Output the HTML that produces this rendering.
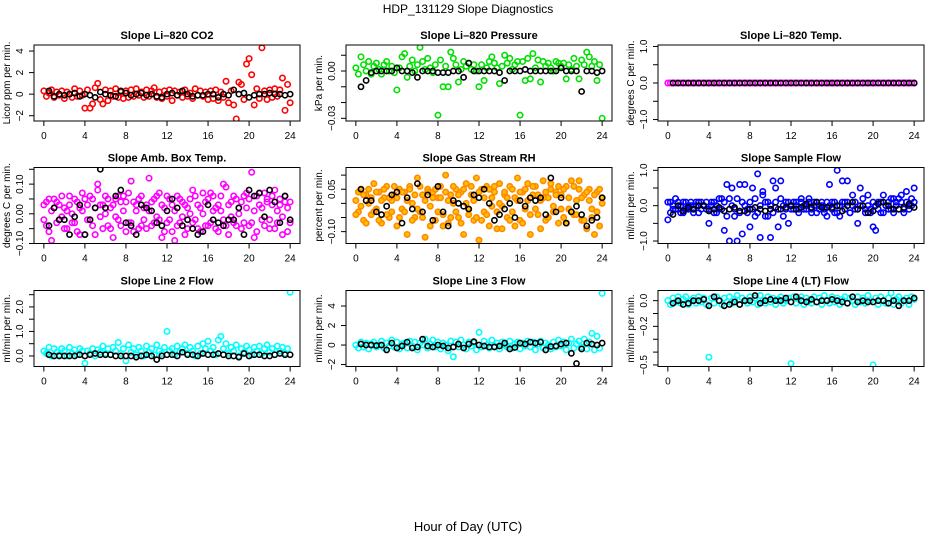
<!DOCTYPE html>
<html><head><meta charset="utf-8"><title>HDP_131129 Slope Diagnostics</title>
<style>
html,body{margin:0;padding:0;background:#fff;}
svg{display:block;font-family:"Liberation Sans",sans-serif;}
</style></head>
<body>
<svg id="chart" width="936" height="540" viewBox="0 0 936 540" xmlns="http://www.w3.org/2000/svg">
<rect x="0" y="0" width="936" height="540" fill="#fff"/>
<text x="468" y="13" font-size="12" text-anchor="middle">HDP_131129  Slope Diagnostics</text>
<text x="468" y="531" font-size="13" text-anchor="middle">Hour of Day (UTC)</text>
</svg>
<script>
const hours = Array.from({length:97},(_, i)=>i*0.25);
const blackHours = Array.from({length:48},(_, i)=>0.5+i*0.5);

const co2Vals = [0.3,-0.2,0.1,0.4,-0.3,0.2,-0.1,0.3,-0.4,0.2,0.0,-0.3,0.5,-0.2,0.3,-0.1,
-1.3,0.4,-1.3,-0.9,0.6,1.0,-0.5,-0.9,0.4,-0.6,0.3,-0.2,0.5,-0.3,0.2,-0.4,
0.3,-0.3,0.4,-0.2,0.5,-0.1,0.2,-0.3,0.4,-0.2,0.3,0.6,-0.3,0.2,-0.4,0.3,
-0.2,0.4,-0.6,0.3,-0.1,0.2,-0.3,0.4,-0.2,0.1,-0.4,0.5,-0.1,0.3,-0.2,0.2,
-0.5,0.3,-0.4,0.4,-0.6,0.2,-0.3,1.2,-0.8,0.3,-1.0,-2.3,1.1,0.9,-0.5,2.8,
3.3,1.8,-1.0,0.5,-0.4,4.3,0.3,-0.5,0.4,-0.3,0.5,-0.2,0.4,1.5,-1.5,0.9,-0.8];
const co2Mean = [0.3,-0.2,0.0,-0.1,0.0,0.1,-0.2,0.0,-0.1,-0.3,0.2,0.0,-0.1,-0.2,0.3,0.1,-0.1,0.0,0.1,-0.1,0.0,-0.2,-0.3,0.0,0.1,-0.1,0.3,0.0,-0.2,-0.1,-0.1,0.0,0.0,-0.3,0.0,-0.1,0.4,0.0,0.1,-0.3,-0.1,0.0,0.0,0.1,0.0,0.0,-0.1,0.0];

const presVals = [0.002,-0.002,0.009,0.004,0.000,0.006,-0.002,0.003,0.005,0.001,-0.002,0.004,0.006,0.000,0.003,-0.001,
-0.012,0.002,0.009,0.011,-0.004,0.003,0.007,0.000,0.004,0.015,0.006,0.001,0.008,0.002,-0.001,0.004,
-0.028,0.007,-0.010,0.003,-0.010,0.012,0.008,0.004,-0.007,0.001,0.006,0.003,0.005,0.001,0.004,0.000,
-0.010,0.004,-0.006,0.002,0.006,0.009,0.005,0.002,-0.008,0.003,0.010,0.005,0.008,0.001,0.004,0.006,
-0.028,0.006,-0.006,0.008,-0.005,0.011,0.002,0.007,-0.007,0.006,0.003,0.005,0.002,0.000,0.006,0.005,
0.003,0.005,-0.005,0.004,0.001,0.008,0.003,-0.005,0.007,0.004,0.012,0.009,0.003,0.006,-0.006,0.004,-0.030];
const presMean = [-0.010,-0.006,-0.001,0.000,0.000,0.000,0.000,0.002,0.000,0.000,-0.001,-0.004,0.000,0.000,0.000,-0.001,-0.001,-0.001,0.000,0.000,-0.004,0.005,0.000,0.000,0.000,0.000,0.000,-0.001,-0.006,0.000,0.000,0.000,0.001,0.000,0.000,0.000,0.000,0.000,0.000,0.002,0.000,0.000,0.000,-0.013,0.000,0.000,-0.001,0.000];

const tempVals = [0,0,0,0,0,0,0,0,0,0,0,0,0,0,0,0,0,0,0,0,0,0,0,0,0,0,0,0,0,0,0,0,0,0,0,0,0,0,0,0,0,0,0,0,0,0,0,0,0,0,0,0,0,0,0,0,0,0,0,0,0,0,0,0,0,0,0,0,0,0,0,0,0,0,0,0,0,0,0,0,0,0,0,0,0,0,0,0,0,0,0,0,0,0,0,0,0];
const tempMean = [0,0,0,0,0,0,0,0,0,0,0,0,0,0,0,0,0,0,0,0,0,0,0,0,0,0,0,0,0,0,0,0,0,0,0,0,0,0,0,0,0,0,0,0,0,0,0,0];

const ambValsA = [0.03,-0.04,0.05,-0.09,0.02,0.04,-0.02,0.06,-0.05,0.01,0.03,-0.03,0.05,-0.06,0.02,0.07,
-0.07,0.03,-0.02,0.05,-0.07,0.08,-0.01,0.03,0.06,-0.04,0.02,-0.08,0.05,-0.02,0.04,0.06,
-0.06,0.07,-0.03,0.04,0.01,-0.05,0.06,-0.02,0.03,0.12,-0.04,0.05,-0.01,0.07,-0.08,0.02,
-0.03,0.05,-0.06,0.01,0.06,-0.03,0.04,-0.07,0.02,0.05,0.08,-0.02,0.03,-0.06,0.07,0.04,
-0.04,0.07,0.01,-0.05,0.03,0.06,-0.02,0.09,-0.07,0.04,-0.03,0.05,0.02,-0.05,0.06,0.07,
-0.04,0.14,-0.08,0.06,0.03,-0.02,0.07,0.05,-0.05,0.03,0.08,-0.03,0.05,-0.01,0.06,-0.06,0.04];
const ambValsB = [-0.02,0.04,-0.06,0.01,0.05,-0.03,0.03,-0.01,0.02,-0.05,0.06,0.00,-0.03,0.04,-0.07,0.01,
0.05,-0.02,0.06,-0.04,0.02,0.10,0.03,-0.05,0.00,0.05,-0.05,0.03,-0.01,0.06,-0.04,0.01,
0.04,-0.03,0.11,-0.06,0.03,0.05,-0.04,0.02,-0.05,0.01,0.04,-0.03,0.06,-0.02,0.03,-0.06,
0.06,-0.02,0.03,-0.09,-0.04,0.05,-0.01,0.03,-0.05,0.00,-0.03,0.06,-0.05,0.02,0.00,-0.04,
0.05,-0.03,0.06,0.02,-0.06,0.01,0.10,-0.04,0.03,-0.01,0.06,-0.04,0.00,0.04,-0.03,0.02,
0.05,-0.03,0.01,-0.06,0.07,0.02,-0.04,0.04,-0.02,0.06,-0.05,0.01,0.03,-0.07,0.04,0.02,-0.03];
const ambMean = [-0.04,0.02,-0.02,-0.02,-0.07,-0.01,0.03,-0.07,-0.02,0.02,0.15,0.02,-0.12,0.06,0.08,-0.03,-0.04,-0.07,0.03,0.02,0.01,-0.03,-0.04,0.01,0.05,0.02,-0.04,-0.02,-0.05,-0.07,-0.06,0.03,-0.02,-0.03,-0.04,-0.02,-0.02,0.02,-0.07,0.08,0.06,0.07,-0.01,0.08,0.04,-0.03,0.06,-0.02];

const rhValsA = [0.01,-0.03,0.05,-0.06,0.03,0.00,-0.04,0.07,-0.02,0.04,-0.07,0.02,0.06,-0.05,0.01,0.03,
-0.08,0.05,-0.02,0.04,-0.11,0.06,0.00,-0.05,0.09,-0.03,0.03,-0.12,0.05,-0.01,0.04,-0.06,
0.02,0.06,-0.04,0.10,-0.07,0.03,0.00,0.05,-0.05,0.04,-0.11,0.07,-0.02,0.03,-0.06,0.09,
-0.13,0.05,-0.03,0.06,-0.08,0.02,0.04,-0.09,0.07,-0.01,0.03,-0.05,0.06,-0.03,0.02,0.09,
-0.06,0.04,-0.02,0.07,-0.11,0.03,0.06,-0.04,0.01,0.08,-0.06,0.02,0.05,-0.03,0.04,-0.07,
0.03,-0.05,0.06,-0.02,0.08,-0.04,0.01,0.08,-0.06,0.03,-0.09,0.05,-0.02,-0.11,0.04,-0.08,0.02];
const rhValsB = [-0.04,0.04,-0.01,0.03,-0.07,0.05,0.02,-0.03,0.04,-0.06,0.01,0.05,-0.04,0.02,-0.03,0.06,
0.02,-0.05,0.04,-0.03,0.01,0.05,-0.06,0.03,-0.02,0.06,-0.05,0.01,0.04,-0.08,0.02,0.05,
-0.03,0.02,-0.08,0.04,0.01,-0.05,0.06,-0.03,0.03,-0.07,0.05,0.00,-0.04,0.06,0.01,-0.05,
0.04,-0.06,0.02,-0.04,0.05,-0.01,0.06,-0.03,0.00,-0.09,0.04,0.02,-0.06,0.05,-0.08,0.01,
0.04,-0.07,0.05,0.01,-0.04,0.06,-0.02,0.03,-0.09,0.02,0.04,-0.05,0.07,-0.01,0.03,0.06,
-0.02,0.05,-0.07,0.02,-0.03,0.06,-0.04,0.05,0.02,-0.06,0.04,0.01,-0.05,0.03,-0.03,0.05,0.00];
const rhMean = [0.05,0.01,0.01,-0.03,-0.04,-0.01,0.03,0.04,-0.07,0.02,-0.02,0.07,-0.03,0.03,-0.06,0.06,-0.03,-0.08,0.01,0.00,-0.01,-0.02,0.03,0.02,0.05,0.00,-0.06,-0.04,-0.02,0.00,-0.05,0.01,-0.01,0.02,0.01,0.02,-0.04,0.09,-0.03,0.02,-0.07,-0.03,-0.01,-0.04,-0.08,-0.06,-0.05,0.02];

const sampleValsA = [-0.4,0.1,-0.1,0.2,-0.1,0.0,-0.2,0.1,-0.1,0.0,-0.1,0.1,-0.2,0.1,0.0,-0.1,
-0.5,0.1,-0.2,0.0,-0.1,0.2,-0.7,0.6,-1.0,0.5,-0.3,-1.0,0.6,-0.8,0.6,-0.1,
-0.6,0.5,-0.3,0.9,-0.9,0.3,0.1,-0.3,-0.9,0.7,0.5,-0.6,0.7,-0.3,0.1,-0.5,
0.0,-0.1,0.1,-0.2,0.1,0.0,-0.1,0.2,-0.1,0.1,-0.2,0.0,0.1,-0.1,-0.3,0.6,
0.1,-0.2,1.0,-0.3,0.7,0.1,0.7,-0.2,0.3,-0.1,-0.5,0.5,0.0,-0.2,0.3,-0.1,
-0.6,-0.7,0.1,-0.2,0.3,0.0,-0.1,0.2,-0.2,0.1,0.2,0.3,-0.1,0.4,0.0,0.2,0.5];
const sampleValsB = [0.1,-0.2,0.0,-0.1,0.1,-0.2,0.1,-0.1,0.0,0.1,-0.2,0.0,0.1,-0.1,0.0,0.1,
-0.1,0.0,0.1,-0.2,0.2,-0.1,0.1,-0.3,0.2,0.0,-0.1,0.2,-0.2,0.1,0.0,-0.2,
0.1,-0.1,0.2,-0.2,0.0,0.4,-0.3,0.1,0.0,-0.2,0.1,-0.1,0.2,0.0,-0.1,0.1,
-0.1,0.1,0.0,-0.1,0.2,-0.1,0.0,0.1,-0.2,0.0,0.1,-0.1,0.0,-0.2,0.1,0.0,
-0.1,0.1,-0.2,0.0,0.1,-0.1,0.1,-0.2,0.0,0.1,-0.1,0.0,0.2,-0.1,0.0,-0.2,
0.1,0.0,-0.1,0.1,-0.2,0.0,0.1,-0.1,0.2,0.0,-0.1,0.1,-0.2,0.1,-0.1,0.0,0.1];
const sampleMean = [-0.25,0.0,-0.15,-0.05,-0.1,0.0,0.0,-0.15,-0.1,-0.05,-0.15,-0.1,-0.05,-0.15,-0.15,-0.1,-0.05,-0.1,-0.15,-0.1,-0.05,-0.1,-0.05,0.0,-0.1,-0.05,0.05,-0.05,0.1,-0.05,-0.05,-0.05,0.0,-0.15,0.0,0.1,-0.1,0.0,-0.2,-0.15,0.05,0.1,0.0,-0.1,-0.1,-0.05,0.05,-0.05];

const line2Vals = [0.2,0.1,0.35,0.0,0.3,0.15,0.05,0.3,0.2,0.0,0.35,0.1,0.25,0.05,0.3,0.2,
-0.3,0.2,0.1,0.3,0.0,0.25,0.15,0.4,0.1,0.3,0.05,0.35,0.2,0.55,0.1,0.3,
-0.2,0.45,0.15,0.3,0.05,0.35,0.2,0.0,0.4,0.15,0.3,0.05,0.45,0.2,0.1,0.35,
1.0,0.2,0.3,0.05,0.4,0.15,0.3,0.45,0.1,0.35,0.2,0.0,0.4,0.1,0.5,0.3,
0.6,0.2,0.35,0.05,0.65,0.8,0.3,0.5,0.1,0.35,0.2,0.45,0.0,0.3,0.15,0.4,
0.25,0.05,0.35,0.2,0.4,0.1,0.3,0.45,0.15,0.3,0.05,0.4,0.2,0.35,0.1,0.3,2.6];
const line2Mean = [0.05,0.0,0.0,0.0,0.0,0.0,0.05,0.0,0.05,0.1,0.05,0.05,0.05,0.0,0.0,0.0,0.0,-0.05,0.0,0.05,0.0,-0.15,0.0,0.05,0.05,0.0,0.15,0.05,0.05,0.0,0.1,0.05,0.05,0.1,0.05,0.0,0.0,-0.05,0.1,0.0,0.05,0.05,0.0,0.0,0.05,0.1,0.05,0.05];

const line3Vals = [0.0,-0.3,0.3,-0.2,0.2,-0.4,0.1,0.3,-0.2,0.0,0.4,-0.3,0.2,-0.1,0.5,-0.2,
0.3,-0.4,0.1,0.2,-0.3,0.4,-0.1,0.3,-0.5,0.2,0.0,0.6,-0.3,0.1,0.5,-0.2,
0.3,-0.4,0.2,0.0,-0.6,0.4,-1.2,0.3,-0.2,0.5,0.0,-0.4,0.3,-0.1,0.2,-0.5,
1.3,-0.2,0.4,0.0,-0.3,0.5,-0.1,0.2,-0.4,0.3,0.0,-0.2,0.4,-0.3,0.1,0.3,
-0.4,0.2,-0.1,0.4,-0.2,0.3,-0.5,0.1,0.4,-0.3,0.2,0.0,-0.4,0.3,-0.2,0.5,
-0.1,0.3,-0.5,0.2,0.6,-0.3,0.1,0.4,-0.2,0.6,-0.4,0.3,1.2,-0.5,0.9,-0.3,5.3];
const line3Mean = [0.1,0.0,0.0,-0.05,0.0,-0.5,0.2,-0.3,-0.1,0.3,-0.3,-0.2,0.6,-0.1,-0.2,0.0,-0.1,-0.3,-0.2,0.1,-0.3,0.1,0.35,0.0,-0.1,-0.2,-0.2,-0.1,0.2,-0.4,-0.25,0.2,0.1,0.3,0.2,0.3,-0.5,-0.15,-0.1,0.1,0.2,-0.85,-1.9,-0.4,0.2,0.1,0.0,0.2];

const line4Vals = [0.0,-0.03,0.02,-0.01,0.03,-0.02,0.01,0.03,-0.03,0.0,0.02,-0.02,0.03,-0.01,0.02,-0.03,
-0.44,0.02,-0.02,0.03,0.0,-0.03,0.02,-0.01,0.03,-0.02,0.01,0.04,-0.03,0.02,0.0,-0.02,
0.03,-0.01,0.02,-0.03,0.04,0.0,-0.02,0.03,-0.01,0.02,-0.03,0.01,0.03,-0.02,0.0,0.02,
-0.49,0.03,-0.02,0.01,0.03,-0.03,0.02,0.0,-0.02,0.03,-0.01,0.02,-0.03,0.04,0.0,-0.02,
0.03,-0.01,0.02,-0.03,0.01,0.03,-0.02,0.02,0.0,-0.03,0.03,-0.01,0.02,-0.02,0.04,0.0,
-0.5,0.02,-0.03,0.03,0.0,-0.02,0.02,0.06,-0.03,0.01,0.03,-0.02,0.0,0.02,-0.03,0.03,0.01];
const line4Mean = [-0.02,0.0,-0.03,-0.02,0.0,0.0,0.01,-0.04,0.03,0.0,-0.04,-0.03,-0.01,-0.03,0.0,0.0,0.04,-0.02,0.0,0.01,0.0,0.0,0.02,-0.01,0.03,0.0,-0.01,0.01,-0.01,0.0,0.0,0.01,0.0,-0.01,-0.02,0.03,-0.01,0.0,-0.01,-0.01,0.0,0.0,-0.02,0.0,-0.04,0.0,0.0,0.02];

const xTickLabels = ["0","4","8","12","16","20","24"];
const xTicks = [0,4,8,12,16,20,24];

const panels = [
 {name:"co2", title:"Slope Li\u2013820 CO2", ylab:"Licor ppm per min.", ymin:-2.49, ymax:4.56, ticks:[-2,0,2,4], labels:{"-2":"\u22122","0":"0","2":"2","4":"4"}, color:"#ff0000", series:[co2Vals], mean:co2Mean},
 {name:"pressure", title:"Slope Li\u2013820 Pressure", ylab:"kPa per min.", ymin:-0.0317, ymax:0.0165, ticks:[-0.03,-0.02,-0.01,0,0.01], labels:{"-0.03":"\u22120.03","0":"0.00"}, color:"#00e000", series:[presVals], mean:presMean},
 {name:"temp", title:"Slope Li\u2013820 Temp.", ylab:"degrees C per min.", ymin:-1.04, ymax:1.04, ticks:[-1,-0.5,0,0.5,1], labels:{"-1":"\u22121.0","0":"0.0","1":"1.0"}, color:"#ff00ff", series:[tempVals], mean:tempMean},
 {name:"amb-box-temp", title:"Slope Amb. Box Temp.", ylab:"degrees C per min.", ymin:-0.1, ymax:0.156, ticks:[-0.1,-0.05,0,0.05,0.1,0.15], labels:{"-0.1":"\u22120.10","0":"0.00","0.1":"0.10"}, color:"#ff00ff", series:[ambValsA,ambValsB], mean:ambMean},
 {name:"gas-stream-rh", title:"Slope Gas Stream RH", ylab:"percent per min.", ymin:-0.142, ymax:0.127, ticks:[-0.1,-0.05,0,0.05,0.1], labels:{"-0.1":"\u22120.10","0.05":"0.05"}, color:"#ffa500", series:[rhValsA,rhValsB], mean:rhMean},
 {name:"sample-flow", title:"Slope Sample Flow", ylab:"ml/min per min.", ymin:-1.07, ymax:1.08, ticks:[-1,-0.5,0,0.5,1], labels:{"-1":"\u22121.0","0":"0.0","1":"1.0"}, color:"#0000ff", series:[sampleValsA,sampleValsB], mean:sampleMean},
 {name:"line2-flow", title:"Slope Line 2 Flow", ylab:"ml/min per min.", ymin:-0.43, ymax:2.67, ticks:[0,0.5,1,1.5,2,2.5], labels:{"0":"0.0","1":"1.0","2":"2.0"}, color:"#00ffff", series:[line2Vals], mean:line2Mean},
 {name:"line3-flow", title:"Slope Line 3 Flow", ylab:"ml/min per min.", ymin:-2.2, ymax:5.59, ticks:[-2,0,2,4], labels:{"-2":"\u22122","0":"0","2":"2","4":"4"}, color:"#00ffff", series:[line3Vals], mean:line3Mean},
 {name:"line4-flow", title:"Slope Line 4 (LT) Flow", ylab:"ml/min per min.", ymin:-0.512, ymax:0.079, ticks:[-0.5,-0.4,-0.3,-0.2,-0.1,0], labels:{"-0.5":"\u22120.5","-0.2":"\u22120.2","0":"0.0"}, color:"#00ffff", series:[line4Vals], mean:line4Mean}
];

const svg = document.getElementById('chart');
const NS = "http://www.w3.org/2000/svg";
const lefts = [34,346,658], tops = [45,167.5,290.5], W = 266, H = 76;
const XMIN = -0.96, XMAX = 24.96;
function mk(tag, attrs, parent){ const e=document.createElementNS(NS,tag); for(const k in attrs) e.setAttribute(k,attrs[k]); (parent||svg).appendChild(e); return e; }

panels.forEach((p, k) => {
  const L = lefts[k%3], T = tops[Math.floor(k/3)];
  const sx = h => L + (h - XMIN)/(XMAX - XMIN)*W;
  const sy = v => T + H - (v - p.ymin)/(p.ymax - p.ymin)*H;
  const g = mk('g', {});
  
  
  const cp = mk('clipPath', {id:'clip'+k}, g);
  mk('rect', {x:L, y:T, width:W, height:H}, cp);

  const t = mk('text', {x:L+W/2, y:T-6, 'font-size':11, 'font-weight':'bold', 'text-anchor':'middle'}, g);
  t.textContent = p.title;
  
  

  const yl = mk('text', {x:0, y:0, 'font-size':10, 'text-anchor':'middle', transform:`translate(${L-24},${T+H/2}) rotate(-90)`}, g);
  yl.textContent = p.ylab;
  
  

  const pts = mk('g', {'clip-path':`url(#clip${k})`}, g);
  
  
  const isRH = p.name === 'gas-stream-rh';
  p.series.forEach(arr => {
    arr.forEach((v, i) => {
      const c = mk('circle', {cx:sx(hours[i]), cy:sy(v), r:2.7, fill: isRH ? '#ffc000' : 'none', stroke: isRH ? '#ff8a00' : p.color, 'stroke-width':1.6}, pts);
      
      
    });
  });
  const mg = mk('g', {'clip-path':`url(#clip${k})`}, g);
  
  
  p.mean.forEach((v, i) => {
    const c = mk('circle', {cx:sx(blackHours[i]), cy:sy(v), r:2.6, fill:'none', stroke:'#000', 'stroke-width':1.6}, mg);
    
    
  });

  const box = mk('rect', {x:L, y:T, width:W, height:H, fill:'none', stroke:'#000', 'stroke-width':1}, g);
  
  

  const xa = mk('g', {}, g);
  
  
  mk('line', {x1:sx(xTicks[0]), x2:sx(xTicks[xTicks.length-1]), y1:T+H, y2:T+H, stroke:'#000'}, xa);
  xTicks.forEach((tv, i) => {
    mk('line', {x1:sx(tv), x2:sx(tv), y1:T+H, y2:T+H+5, stroke:'#000'}, xa);
    const lb = mk('text', {x:sx(tv), y:T+H+18, 'font-size':10, 'text-anchor':'middle'}, xa);
    lb.textContent = xTickLabels[i];
    
    
  });

  const ya = mk('g', {}, g);
  
  
  mk('line', {x1:L, x2:L, y1:sy(p.ticks[0]), y2:sy(p.ticks[p.ticks.length-1]), stroke:'#000'}, ya);
  p.ticks.forEach(tv => {
    mk('line', {x1:L-5, x2:L, y1:sy(tv), y2:sy(tv), stroke:'#000'}, ya);
    const key = String(tv);
    if (p.labels[key] !== undefined) {
      const lb = mk('text', {x:0, y:0, 'font-size':10, 'text-anchor':'middle', transform:`translate(${L-11},${sy(tv)}) rotate(-90)`}, ya);
      lb.textContent = p.labels[key];
      
      
    }
  });
});
</script>
</body></html>
